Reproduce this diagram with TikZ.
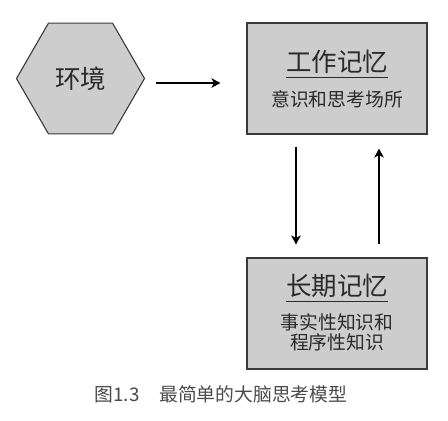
\documentclass[tikz,border=0pt]{standalone}
\usepackage{fontspec}
\setmainfont{Noto Sans CJK SC}
\usetikzlibrary{shapes.geometric,arrows.meta}
\definecolor{boxfill}{HTML}{CDCDCD}
\definecolor{boxline}{HTML}{3A3A3A}
\definecolor{txt}{HTML}{2A2A2A}
\tikzset{
  panel/.style={draw=boxline, fill=boxfill, line width=1.1pt, minimum width=180pt, minimum height=111pt, inner sep=0pt},
  hexa/.style={regular polygon, regular polygon sides=6, draw=boxline, fill=boxfill, line width=1.1pt, minimum size=128pt, inner sep=0pt},
  ttl/.style={text=txt, font=\fontsize{25.5}{28}\selectfont, inner sep=0pt},
  sub/.style={text=txt, font=\fontsize{18.8}{21}\selectfont, inner sep=0pt, align=center},
  uline/.style={draw=txt, line width=0.9pt},
  arr/.style={draw=black, line width=1.4pt, -{Stealth[length=9pt,width=9.5pt,inset=2.5pt]}},
  captext/.style={text=txt!85!white, font=\fontsize{18.8}{21}\selectfont, inner sep=0pt}
}
\begin{document}
\begin{tikzpicture}[x=1pt,y=-1pt]
\useasboundingbox (0,0) rectangle (448,421);
\node[hexa] (env) at (80.5,78.5) {};
\node[ttl] (envt) at (80.5,79) {环境};
\node[panel] (wm) at (337,78.5) {};
\node[panel] (ltm) at (337,313.5) {};
\node[ttl] (wmt) at (337,62) {工作记忆};
\node[sub] (wms) at (337,99) {意识和思考场所};
\node[ttl] (ltmt) at (337,286) {长期记忆};
\node[sub] (ltms) at (337,332.5) {事实性知识和\\[-1pt]程序性知识};
\coordinate (wmu) at (0,77);
\coordinate (ltu) at (0,301);
\draw[uline] (wmt.west |- wmu) -- (wmt.east |- wmu);
\draw[uline] (ltmt.west |- ltu) -- (ltmt.east |- ltu);
\coordinate (ay) at (0,83);
\coordinate (dx) at (296,0);
\coordinate (ux) at (379,0);
\draw[arr, shorten <=11pt, shorten >=26pt] (env.east |- ay) -- (wm.west |- ay);
\draw[arr, shorten <=12pt, shorten >=13pt] (wm.south -| dx) -- (ltm.north -| dx);
\draw[arr, shorten <=13pt, shorten >=14pt] (ltm.north -| ux) -- (wm.south -| ux);
\node[captext] (caption) at (221,394) {图1.3\hspace{1.05em}最简单的大脑思考模型};
\end{tikzpicture}
\end{document}
